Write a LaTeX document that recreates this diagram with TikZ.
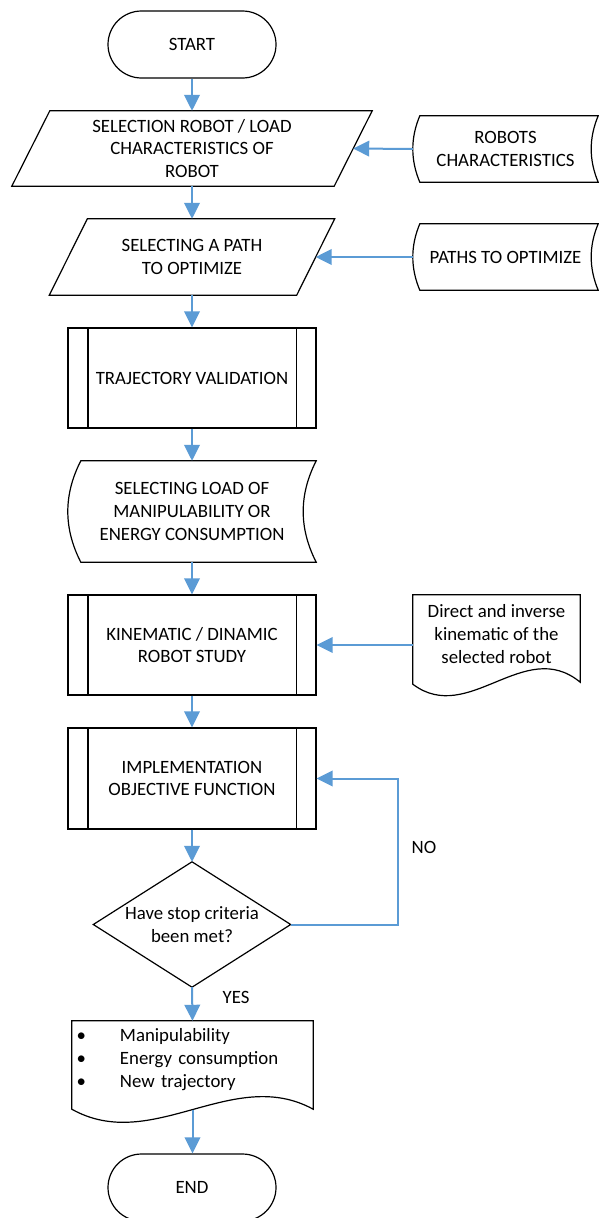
\documentclass[tikz,border=0pt]{standalone}
\usepackage{fontspec}
\setmainfont{Carlito}
\usetikzlibrary{arrows.meta,calc,shapes.misc}
\definecolor{arrowblue}{RGB}{91,155,213}
\newcommand\storedshape[2]{\draw[outline] ([xshift=#2]#1.north west) -- (#1.north east)
  .. controls ([xshift={-4*#2/3}]$(#1.north east)!1/3!(#1.south east)$) and ([xshift={-4*#2/3}]$(#1.north east)!2/3!(#1.south east)$) .. (#1.south east)
  -- ([xshift=#2]#1.south west)
  .. controls ([xshift={-#2/3}]$(#1.south west)!1/3!(#1.north west)$) and ([xshift={-#2/3}]$(#1.south west)!2/3!(#1.north west)$) .. ([xshift=#2]#1.north west) -- cycle;}
\newcommand\paraoutline[2]{\draw[outline] ([xshift=#2]#1.north west) -- ([xshift=#2]#1.north east) -- ([xshift=-#2]#1.south east) -- ([xshift=-#2]#1.south west) -- cycle;}
\newcommand\procbars[2]{\draw[outline] ([xshift=#2]#1.north west) -- ([xshift=#2]#1.south west) ([xshift=-#2]#1.north east) -- ([xshift=-#2]#1.south east);}
\begin{document}
\begin{tikzpicture}[x=1pt,y=-1pt,
  every node/.style={font=\fontsize{18.8}{22.8}\selectfont, inner sep=0pt},
  shapebox/.style={rectangle, draw=none, inner sep=0pt, align=center},
  outline/.style={draw=black, line width=1.2pt, line join=miter},
  arr/.style={draw=arrowblue, line width=2pt, -{Triangle[length=16pt,width=15.5pt]}}
]
\fill[white] (0,0) rectangle (598,1218);
\useasboundingbox (0,0) rectangle (598,1218);

% terminators
\node[rounded rectangle, outline, minimum width=168pt, minimum height=67pt] (start) at (192,44.5) {START};
\node[rounded rectangle, outline, minimum width=168pt, minimum height=67pt] (end) at (192,1187.5) {END};

% input parallelograms
\node[shapebox, minimum width=322pt, minimum height=75pt] (p1) at (192,148.5) {SELECTION ROBOT / LOAD\\CHARACTERISTICS OF\\ROBOT};
\paraoutline{p1}{19pt}
\node[shapebox, minimum width=247pt, minimum height=76pt] (p2) at (192,257) {SELECTING A PATH\\TO OPTIMIZE};
\paraoutline{p2}{19pt}

% stored data
\node[shapebox, minimum width=185pt, minimum height=66pt] (rc) at (505.5,149) {ROBOTS\\CHARACTERISTICS};
\storedshape{rc}{7pt}
\node[shapebox, minimum width=185pt, minimum height=66pt] (pto) at (505.5,257) {PATHS TO OPTIMIZE};
\storedshape{pto}{7pt}
\node[shapebox, minimum width=248pt, minimum height=101pt] (sl) at (192,511.5) {SELECTING LOAD OF\\MANIPULABILITY OR\\ENERGY CONSUMPTION};
\storedshape{sl}{13pt}

% predefined processes
\node[shapebox, outline, minimum width=248pt, minimum height=100pt] (tv) at (192,378) {TRAJECTORY VALIDATION};
\procbars{tv}{20.5pt}
\node[shapebox, outline, minimum width=248pt, minimum height=100pt] (kin) at (192,645) {KINEMATIC / DINAMIC\\ROBOT STUDY};
\procbars{kin}{20.5pt}
\node[shapebox, outline, minimum width=248pt, minimum height=101pt] (impl) at (192,778.5) {IMPLEMENTATION\\OBJECTIVE FUNCTION};
\procbars{impl}{20.5pt}

% documents
\node[shapebox, minimum width=167pt, minimum height=78pt] (dir) at (496.5,634) {Direct and inverse\\kinematic of the\\selected robot};
\draw[outline] (dir.north west) -- (dir.north east) -- ($(dir.south east)+(0,9)$)
  .. controls ($(dir.south east)+(-55.7,-37)$) and ($(dir.south west)+(55.7,53)$) .. ($(dir.south west)+(0,11)$) -- cycle;

\node[shapebox, minimum height=77pt, text width=232pt, inner xsep=4.5pt, align=left] (out) at (192.5,1059.5)
  {\makebox[43.5pt][l]{•}Manipulability\\\makebox[43.5pt][l]{•}Energy consumption\\\makebox[43.5pt][l]{•}New trajectory};
\draw[outline] (out.north west) -- (out.north east) -- ($(out.south east)+(0,11)$)
  .. controls ($(out.south east)+(-80.3,-33)$) and ($(out.south west)+(80.3,56)$) .. ($(out.south west)+(0,11)$) coordinate[pos=0.5] (owave) -- cycle;

% decision
\node[shapebox, minimum width=197pt, minimum height=125pt] (dia) at (192,924.5) {Have stop criteria\\been met?};
\draw[outline] (dia.north) -- (dia.east) -- (dia.south) -- (dia.west) -- cycle;

% labels
\node (no) at (424,847) {NO};
\node (yes) at (236,997) {YES};

% connectors
\draw[arr] (start.south) -- (p1.north);
\draw[arr] (rc.west) -- (p1.east);
\draw[arr] (p1.south) -- (p2.north);
\draw[arr] (pto.west) -- (p2.east);
\draw[arr] (p2.south) -- (tv.north);
\draw[arr] (tv.south) -- (sl.north);
\draw[arr] (sl.south) -- (kin.north);
\draw[arr] (kin.east -| dir.west) -- (kin.east);
\draw[arr] (kin.south) -- (impl.north);
\draw[arr] (impl.south) -- (dia.north);
\draw[arr] (dia.east) -- ++(107,0) |- (impl.east);
\draw[arr] (dia.south) -- (out.north);
\draw[arr] (owave) -- (owave |- end.north);
\end{tikzpicture}
\end{document}
